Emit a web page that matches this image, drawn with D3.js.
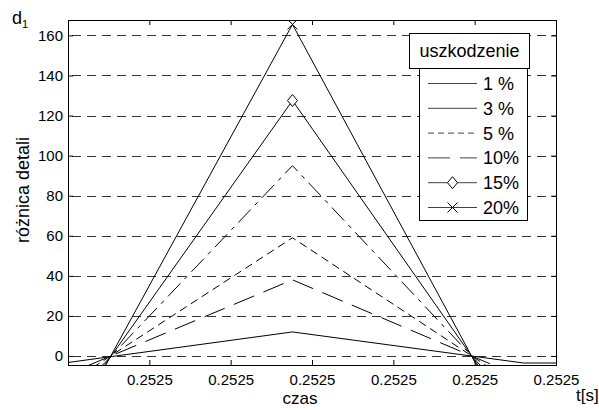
<!DOCTYPE html>
<html>
<head>
<meta charset="utf-8">
<script src="https://cdn.jsdelivr.net/npm/d3@7"></script>
<style>
  body { margin: 0; background: #fff; }
  text { font-family: Arial, "Liberation Sans", sans-serif; fill: #000; }
</style>
</head>
<body>
<svg id="chart" width="599" height="410"></svg>
<script>
// time samples [s] and detail values d1 for each damage level
var times = [0.2524995, 0.25250276, 0.2525056, 0.252507];
var labels = ["1 %", "3 %", "5 %", "10%", "15%", "20%"];
var d1_1 = [-6, 12, -3.5, -3.5];
var d1_3 = [-17.5, 38, -11, -11];
var d1_5 = [-27, 59, -17, -17];
var d1_10 = [-44, 95, -27.5, -27.5];
var d1_15 = [-59, 127.5, -37, -37];
var d1_20 = [-76, 165.5, -48, -48];
var xTicks = [0.252501, 0.252502, 0.252503, 0.252504, 0.252505, 0.252506];
var yTicks = [0, 20, 40, 60, 80, 100, 120, 140, 160];

var seriesValues = [d1_1, d1_3, d1_5, d1_10, d1_15, d1_20];
// line styles (plot / legend) and markers
var dashes = [null, "22,10", "8,5", "18,6,4,6", null, null];
var legendDashes = [null, null, "6,4", "22,10", null, null];
var markers = [null, null, null, null, "diamond", "cross"];

var svg = d3.select("#chart");
var pLeft = 68, pTop = 20, pRight = 556, pBottom = 365;

var x = d3.scaleLinear().domain([0.2525, 0.252506]).range([pLeft, pRight]);
var y = d3.scaleLinear().domain([-4.5, 167.7]).range([pBottom, pTop]);

// clip for the data
svg.append("clipPath").attr("id", "plotclip")
  .append("rect")
  .attr("x", pLeft).attr("y", pTop)
  .attr("width", pRight - pLeft).attr("height", pBottom - pTop);

// horizontal dashed grid
svg.append("g").selectAll("line")
  .data(yTicks)
  .enter().append("line")
  .attr("x1", pLeft).attr("x2", pRight)
  .attr("y1", function(d) { return Math.round(y(d)) + 0.5; })
  .attr("y2", function(d) { return Math.round(y(d)) + 0.5; })
  .attr("stroke", "#333")
  .attr("stroke-width", 1)
  .attr("stroke-dasharray", "9,6")
  .attr("stroke-dashoffset", -4);

// data lines
var line = d3.line()
  .x(function(d, i) { return x(times[i]); })
  .y(function(d) { return y(d); });

var plot = svg.append("g").attr("clip-path", "url(#plotclip)");

seriesValues.forEach(function(vals, s) {
  plot.append("path")
    .attr("d", line(vals))
    .attr("fill", "none")
    .attr("stroke", "#000")
    .attr("stroke-width", 1)
    .attr("stroke-dasharray", dashes[s]);

  if (markers[s]) {
    vals.forEach(function(v, i) {
      drawMarker(plot, markers[s], x(times[i]), y(v));
    });
  }
});

function drawMarker(g, type, cx, cy) {
  if (type == "diamond") {
    g.append("path")
      .attr("d", "M" + cx + "," + (cy - 6) + "L" + (cx + 5) + "," + cy +
                 "L" + cx + "," + (cy + 6) + "L" + (cx - 5) + "," + cy + "Z")
      .attr("fill", "#fff").attr("stroke", "#000");
  } else {
    g.append("path")
      .attr("d", "M" + (cx - 5) + "," + (cy - 5) + "L" + (cx + 5) + "," + (cy + 5) +
                 "M" + (cx + 5) + "," + (cy - 5) + "L" + (cx - 5) + "," + (cy + 5))
      .attr("fill", "none").attr("stroke", "#000");
  }
}

// axes with inward ticks, matlab style
var fmt = d3.format(".4f");
svg.append("g")
  .attr("transform", "translate(0," + pBottom + ")")
  .call(d3.axisBottom(x).tickValues(xTicks).tickSize(-5).tickPadding(9).tickFormat(fmt))
  .call(function(g) { g.select(".domain").remove(); });
svg.append("g")
  .attr("transform", "translate(0," + pTop + ")")
  .call(d3.axisTop(x).tickValues(xTicks).tickSize(-5).tickFormat(""))
  .call(function(g) { g.select(".domain").remove(); });
svg.append("g")
  .attr("transform", "translate(" + pLeft + ",0)")
  .call(d3.axisLeft(y).tickValues(yTicks).tickSize(-5).tickPadding(5))
  .call(function(g) { g.select(".domain").remove(); });
svg.append("g")
  .attr("transform", "translate(" + pRight + ",0)")
  .call(d3.axisRight(y).tickValues(yTicks).tickSize(-5).tickFormat(""))
  .call(function(g) { g.select(".domain").remove(); });

svg.selectAll(".tick line").attr("stroke", "#000");
svg.selectAll(".tick text")
  .style("font-size", "15px")
  .style("font-family", "Arial, 'Liberation Sans', sans-serif")
  .attr("fill", "#000");

// frame
svg.append("rect")
  .attr("x", pLeft + 0.5).attr("y", pTop + 0.5)
  .attr("width", pRight - pLeft).attr("height", pBottom - pTop)
  .attr("fill", "none").attr("stroke", "#000");

// legend
var lg = svg.append("g");
lg.append("rect")
  .attr("x", 419.5).attr("y", 68.5).attr("width", 108).attr("height", 152)
  .attr("fill", "#fff").attr("stroke", "#000");
lg.append("rect")
  .attr("x", 409.5).attr("y", 33.5).attr("width", 120).attr("height", 35)
  .attr("fill", "#fff").attr("stroke", "#000");
lg.append("text")
  .attr("x", 469.5).attr("y", 57)
  .attr("text-anchor", "middle")
  .style("font-size", "18px")
  .text("uszkodzenie");

var items = lg.selectAll(".item")
  .data(labels)
  .enter().append("g")
  .attr("class", "item")
  .attr("transform", function(d, i) { return "translate(0," + (83.5 + i * 24.8) + ")"; });

items.append("line")
  .attr("x1", 428).attr("x2", 477)
  .attr("stroke", "#444")
  .attr("stroke-dasharray", function(d, i) { return legendDashes[i]; });

items.each(function(d, i) {
  if (markers[i]) drawMarker(d3.select(this), markers[i], 452.5, 0);
});

items.append("text")
  .attr("x", 483).attr("y", 6.5)
  .style("font-size", "18px")
  .text(function(d) { return d; });

// axis labels
svg.append("text")
  .attr("x", 300).attr("y", 404)
  .attr("text-anchor", "middle")
  .style("font-size", "17px")
  .text("czas");
svg.append("text")
  .attr("x", 576).attr("y", 401)
  .style("font-size", "17px")
  .text("t[s]");
svg.append("text")
  .attr("transform", "translate(29,190) rotate(-90)")
  .attr("text-anchor", "middle")
  .style("font-size", "18px")
  .text("różnica detali");
var dl = svg.append("text")
  .attr("x", 12).attr("y", 24)
  .style("font-size", "18px");
dl.append("tspan").text("d");
dl.append("tspan").attr("dy", 4).style("font-size", "11px").text("1");
</script>
</body>
</html>
